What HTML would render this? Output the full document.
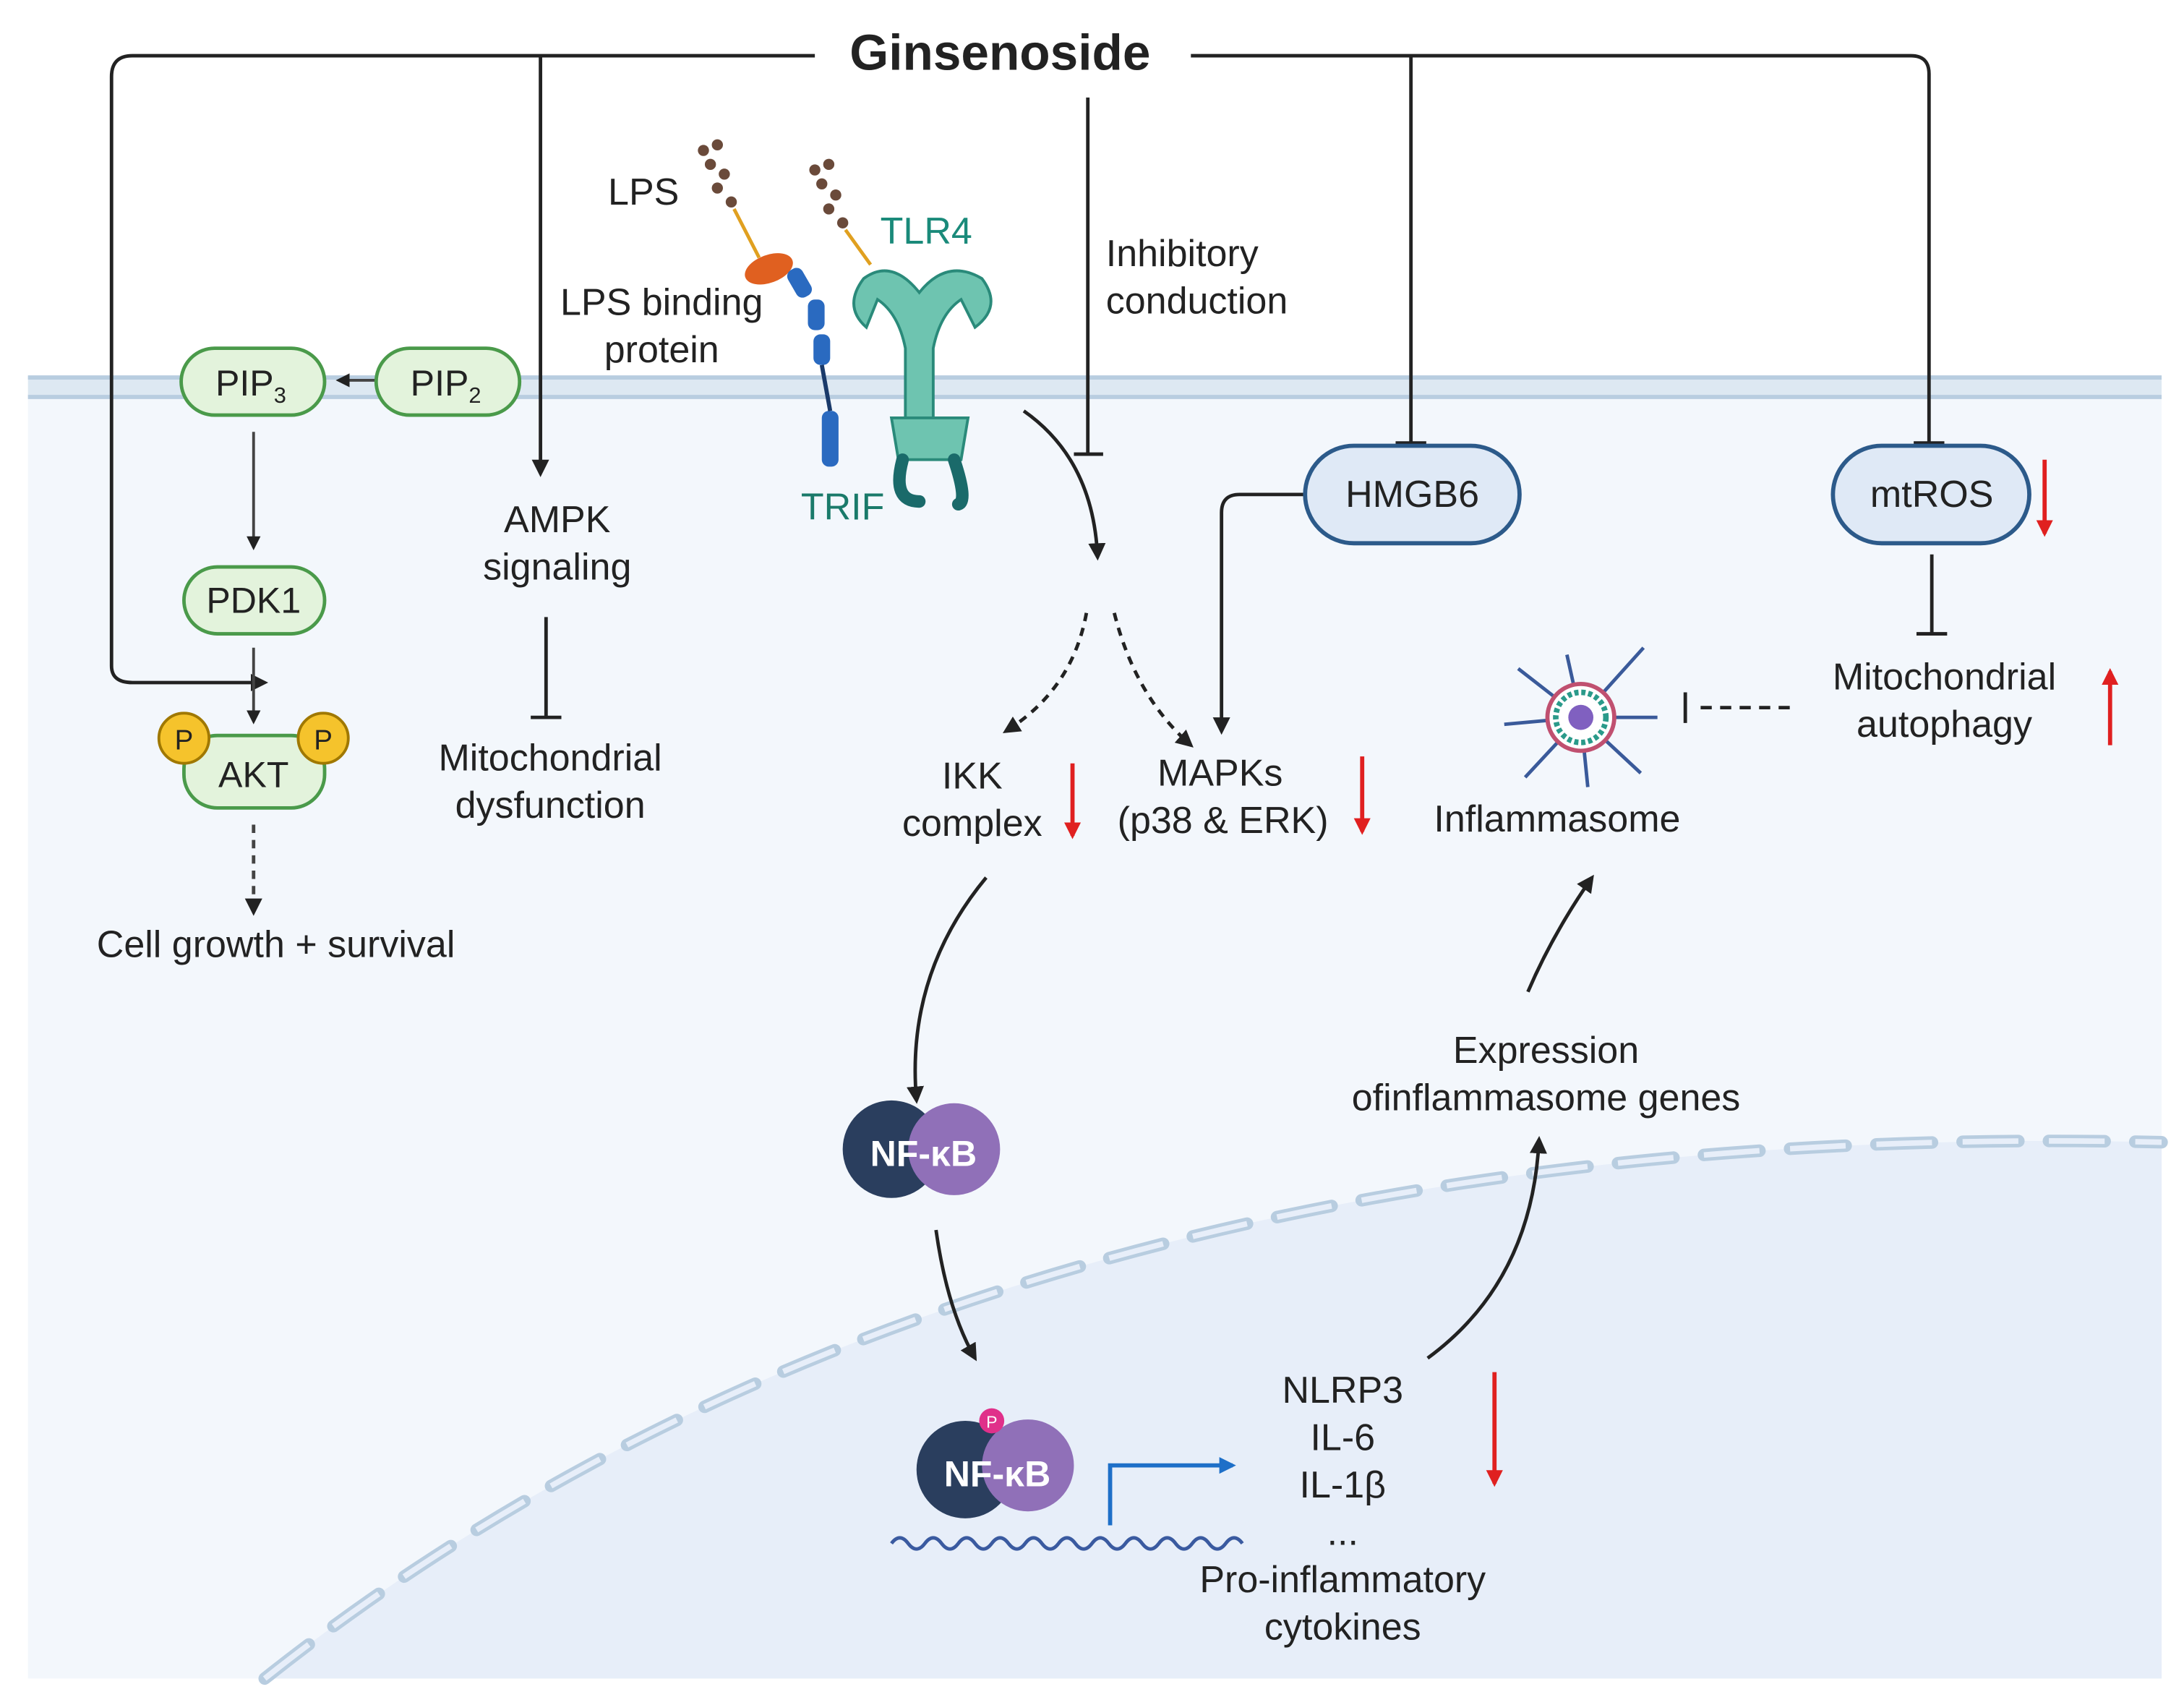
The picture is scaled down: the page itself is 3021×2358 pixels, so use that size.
<!DOCTYPE html>
<html><head><meta charset="utf-8"><style>
html,body{margin:0;padding:0;background:#fff;}
svg{display:block;}
text{font-family:"Liberation Sans",sans-serif;fill:#222;}
</style></head><body>
<svg width="3021" height="2358" viewBox="0 0 1568 1224" xmlns="http://www.w3.org/2000/svg">
<defs>
<marker id="a" viewBox="0 0 10 10" refX="8" refY="5" markerWidth="5" markerHeight="5" orient="auto"><path d="M0,0L10,5L0,10z" fill="#222"/></marker>
<marker id="ar" viewBox="0 0 10 10" refX="8" refY="5" markerWidth="4" markerHeight="4" orient="auto"><path d="M0,0L10,5L0,10z" fill="#e02020"/></marker>
<marker id="ab" viewBox="0 0 10 10" refX="8" refY="5" markerWidth="4" markerHeight="4" orient="auto"><path d="M0,0L10,5L0,10z" fill="#1e6fc8"/></marker>
</defs>
<!-- cell -->
<rect x="20" y="283" width="1532" height="922" fill="#f3f7fc"/>
<path d="M190,1205 Q700,800 1552,820 L1552,1205 Z" fill="#e7eef9"/>
<path d="M190,1205 Q700,800 1552,820" fill="none" stroke="#b8cde0" stroke-width="9" stroke-dasharray="40,22" stroke-linecap="round"/>
<path d="M190,1205 Q700,800 1552,820" fill="none" stroke="#e7eef9" stroke-width="4" stroke-dasharray="40,22"/>
<rect x="20" y="270" width="1532" height="16" fill="#dde8f2"/>
<line x1="20" y1="271" x2="1552" y2="271" stroke="#b8cde0" stroke-width="3"/>
<line x1="20" y1="285" x2="1552" y2="285" stroke="#b8cde0" stroke-width="3"/>

<!-- Ginsenoside -->
<text x="718" y="50" font-size="36" font-weight="bold" text-anchor="middle" fill="#111">Ginsenoside</text>
<g fill="none" stroke="#222" stroke-width="2.5">
<path d="M585,40 H95 Q80,40 80,55 V478 Q80,490 95,490 H190" marker-end="url(#a)"/>
<path d="M388,40 V340" marker-end="url(#a)"/>
<path d="M855,40 H1372 Q1385,40 1385,53 V318"/>
<path d="M1374,318 H1396"/>
<path d="M1013,40 V318"/><path d="M1002,318 H1024"/>
<path d="M781,70 V326"/><path d="M771,326 H792"/>
<path d="M735,295 Q785,330 788,400" marker-end="url(#a)"/>
<path d="M780,440 Q770,495 722,525" stroke-dasharray="6,5" marker-end="url(#a)"/>
<path d="M800,440 Q815,500 855,535" stroke-dasharray="6,5" marker-end="url(#a)"/>
<path d="M937,355 H890 Q877,355 877,368 V525" marker-end="url(#a)"/>
<path d="M392,443 V515"/><path d="M381,515 H403"/>
<path d="M1387,398 V455"/><path d="M1376,455 H1398"/>
<path d="M1285,508 H1215" stroke-dasharray="8,6"/><path d="M1210,497 V519"/>
<path d="M708,630 Q650,700 658,790" marker-end="url(#a)"/>
<path d="M672,883 Q680,940 700,975" marker-end="url(#a)"/>
<path d="M1025,975 Q1100,920 1105,818" marker-end="url(#a)"/>
<path d="M1097,712 Q1115,670 1143,630" marker-end="url(#a)"/>
</g>
<g fill="none" stroke="#444" stroke-width="2">
<path d="M290,273 H243" marker-end="url(#a)"/>
<path d="M182,310 V393" marker-end="url(#a)"/>
<path d="M182,465 V518" marker-end="url(#a)"/>
<path d="M182,592 V655" stroke-dasharray="6,5" stroke-width="2.5" marker-end="url(#a)"/>
</g>
<!-- red arrows -->
<g stroke="#e02020" stroke-width="3" fill="none">
<path d="M770,548 V600" marker-end="url(#ar)"/>
<path d="M978,543 V597" marker-end="url(#ar)"/>
<path d="M1468,330 V383" marker-end="url(#ar)"/>
<path d="M1515,535 V482" marker-end="url(#ar)"/>
<path d="M1073,985 V1065" marker-end="url(#ar)"/>
</g>
<!-- boxes -->
<g stroke="#4a9a4a" stroke-width="2.5" fill="#e3f3dc">
<rect x="130" y="250" width="103" height="48" rx="24"/>
<rect x="270" y="250" width="103" height="48" rx="24"/>
<rect x="132" y="407" width="101" height="48" rx="24"/>
<rect x="132" y="528" width="101" height="52" rx="24"/>
</g>
<g stroke="#a07800" stroke-width="2" fill="#f5c32c">
<circle cx="132" cy="530" r="18"/><circle cx="232" cy="530" r="18"/>
</g>
<text x="132" y="538" font-size="20" text-anchor="middle">P</text>
<text x="232" y="538" font-size="20" text-anchor="middle">P</text>
<text x="180" y="284" font-size="26" text-anchor="middle">PIP<tspan font-size="16" dy="5">3</tspan></text>
<text x="320" y="284" font-size="26" text-anchor="middle">PIP<tspan font-size="16" dy="5">2</tspan></text>
<text x="182" y="440" font-size="26" text-anchor="middle">PDK1</text>
<text x="182" y="565" font-size="26" text-anchor="middle">AKT</text>
<g stroke="#2c5a8a" stroke-width="3" fill="#dfe9f6">
<rect x="937" y="320" width="154" height="70" rx="35"/>
<rect x="1316" y="320" width="141" height="70" rx="35"/>
</g>
<text x="1014" y="364" font-size="27" text-anchor="middle">HMGB6</text>
<text x="1387" y="364" font-size="27" text-anchor="middle">mtROS</text>

<!-- labels -->
<g font-size="27" text-anchor="middle">
<text x="198" y="687">Cell growth + survival</text>
<text x="400" y="382">AMPK</text><text x="400" y="416">signaling</text>
<text x="395" y="553">Mitochondrial</text><text x="395" y="587">dysfunction</text>
<text x="462" y="147">LPS</text>
<text x="475" y="226">LPS binding</text><text x="475" y="260">protein</text>
<text x="698" y="566">IKK</text><text x="698" y="600">complex</text>
<text x="876" y="564">MAPKs</text><text x="878" y="598">(p38 &amp; ERK)</text>
<text x="1118" y="597">Inflammasome</text>
<text x="1396" y="495">Mitochondrial</text><text x="1396" y="529">autophagy</text>
<text x="1110" y="763">Expression</text><text x="1110" y="797">ofinflammasome genes</text>
<text x="964" y="1007">NLRP3</text><text x="964" y="1041">IL-6</text><text x="964" y="1075">IL-1β</text><text x="964" y="1109">...</text>
<text x="964" y="1143">Pro-inflammatory</text><text x="964" y="1177">cytokines</text>
</g>
<text x="794" y="191" font-size="27">Inhibitory</text>
<text x="794" y="225" font-size="27">conduction</text>
<text x="632" y="175" font-size="27" fill="#1a8a7a" style="fill:#1a8a7a">TLR4</text>
<text x="575" y="373" font-size="27" style="fill:#1a7a6a">TRIF</text>

<!-- LPS glyphs -->
<g fill="#6a4a3a">
<circle cx="505" cy="108" r="4"/><circle cx="515" cy="104" r="4"/><circle cx="510" cy="118" r="4"/><circle cx="520" cy="125" r="4"/><circle cx="515" cy="135" r="4"/><circle cx="525" cy="145" r="4"/>
<circle cx="585" cy="122" r="4"/><circle cx="595" cy="118" r="4"/><circle cx="590" cy="132" r="4"/><circle cx="600" cy="140" r="4"/><circle cx="595" cy="150" r="4"/><circle cx="605" cy="160" r="4"/>
</g>
<g stroke="#e0a020" stroke-width="2.5"><path d="M527,150 L545,185"/><path d="M607,165 L625,190"/></g>
<ellipse cx="552" cy="193" rx="18" ry="10" fill="#e06020" transform="rotate(-20 552 193)"/>
<g fill="#2a6ac0">
<rect x="568" y="192" width="12" height="22" rx="5" transform="rotate(-30 574 203)"/>
<rect x="580" y="215" width="12" height="22" rx="5"/>
<rect x="584" y="240" width="12" height="22" rx="5"/>
<rect x="590" y="295" width="12" height="40" rx="5"/>
</g>
<line x1="590" y1="262" x2="596" y2="295" stroke="#1a3a6a" stroke-width="3"/>
<!-- TLR4 -->
<g fill="#6ec4b0" stroke="#2a8a7a" stroke-width="2">
<path d="M620,200 Q640,185 660,210 Q680,185 705,200 Q720,220 700,235 L690,215 Q675,225 670,250 L670,300 L650,300 L650,250 Q645,225 630,215 L622,235 Q605,220 620,200 Z"/>
<path d="M640,300 H695 L690,330 H645 Z"/>
</g>
<g stroke="#1a6a6a" stroke-width="9" fill="none" stroke-linecap="round"><path d="M648,330 Q640,360 660,360"/><path d="M685,330 Q695,360 688,362"/></g>
<!-- inflammasome -->
<g stroke="#3a5a9a" stroke-width="2.5">
<line x1="1135" y1="515" x2="1180" y2="465"/><line x1="1135" y1="515" x2="1190" y2="515"/><line x1="1135" y1="515" x2="1178" y2="555"/><line x1="1135" y1="515" x2="1125" y2="470"/><line x1="1135" y1="515" x2="1090" y2="480"/><line x1="1135" y1="515" x2="1080" y2="520"/><line x1="1135" y1="515" x2="1095" y2="558"/><line x1="1135" y1="515" x2="1140" y2="565"/>
</g>
<circle cx="1135" cy="515" r="24" fill="#fff" stroke="#c05070" stroke-width="3"/>
<circle cx="1135" cy="515" r="18" fill="#fff" stroke="#2a9a8a" stroke-width="4" stroke-dasharray="3,2"/>
<circle cx="1135" cy="515" r="9" fill="#8060c0"/>
<!-- NF-kB -->
<g>
<circle cx="640" cy="825" r="35" fill="#2a3e5e"/><circle cx="685" cy="825" r="33" fill="#9070b8"/>
<text x="663" y="837" font-size="26" font-weight="bold" text-anchor="middle" style="fill:#fff">NF-κB</text>
<circle cx="693" cy="1055" r="35" fill="#2a3e5e"/><circle cx="738" cy="1052" r="33" fill="#9070b8"/>
<text x="716" y="1067" font-size="26" font-weight="bold" text-anchor="middle" style="fill:#fff">NF-κB</text>
<circle cx="712" cy="1020" r="9" fill="#e0308a"/><text x="712" y="1025" font-size="12" text-anchor="middle" style="fill:#fff">P</text>
</g>
<path d="M640,1108 q6,-8 12,0 t12,0 t12,0 t12,0 t12,0 t12,0 t12,0 t12,0 t12,0 t12,0 t12,0 t12,0 t12,0 t12,0 t12,0 t12,0 t12,0 t12,0 t12,0 t12,0 t12,0" fill="none" stroke="#3a5aa0" stroke-width="2.5"/>
<path d="M797,1095 V1052 H885" fill="none" stroke="#1e6fc8" stroke-width="3" marker-end="url(#ab)"/>
</svg>
</body></html>
